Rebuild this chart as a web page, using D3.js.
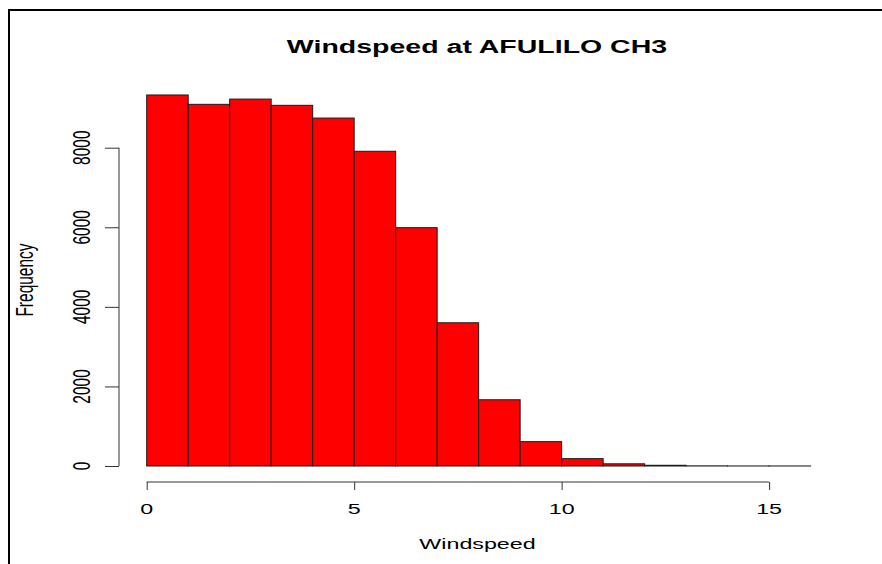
<!DOCTYPE html>
<html>
<head>
<meta charset="utf-8">
<script src="https://cdn.jsdelivr.net/npm/d3@7"></script>
<style>
  html, body { margin: 0; padding: 0; background: #fff; }
  svg { display: block; }
  text { font-family: "Liberation Sans", Arial, sans-serif; fill: #000; }
</style>
</head>
<body>
<svg id="chart" width="882" height="564"></svg>
<script>
// Histogram of wind speed: bins of width 1 from 0 to 16
const binStarts = [0, 1, 2, 3, 4, 5, 6, 7, 8, 9, 10, 11, 12, 13, 14, 15];
const binWidth = 1;
const counts = [9325, 9090, 9222, 9065, 8745, 7910, 5990, 3600, 1665, 612, 185, 55, 18, 3, 1, 1];
const xTicks = [0, 5, 10, 15];
const yTicks = [0, 2000, 4000, 6000, 8000];
const title = "Windspeed at AFULILO CH3";
const xLabel = "Windspeed";
const yLabel = "Frequency";

const svg = d3.select("#chart");
const sx = 1.5; // horizontal stretch of the text glyphs

const x = d3.scaleLinear().domain([0, 16]).range([146.7, 810.6]);
const y = d3.scaleLinear().domain([0, 8000]).range([466, 147.7]);

// outer frame (left and top edges)
svg.append("path")
  .attr("d", "M9,564 V10 H882")
  .attr("fill", "none")
  .attr("stroke", "#000")
  .attr("stroke-width", 2);

// bars
svg.append("g").selectAll("rect")
  .data(binStarts.map((s, i) => ({ s, c: counts[i] })))
  .join("rect")
  .attr("x", d => x(d.s))
  .attr("width", d => x(d.s + binWidth) - x(d.s))
  .attr("y", d => y(d.c))
  .attr("height", d => y(0) - y(d.c))
  .attr("fill", "#ff0000")
  .attr("stroke", "#1a1a1a")
  .attr("stroke-width", 1);

// x axis
const xAxisY = 482;
const gx = svg.append("g").attr("transform", `translate(0,${xAxisY})`)
  .call(d3.axisBottom(x).tickValues(xTicks).tickSizeInner(8).tickSizeOuter(0).tickFormat(""));
gx.select(".domain").attr("d", `M${x(0)},0H${x(15)}`).attr("stroke", "#333");
gx.selectAll(".tick line").attr("stroke", "#333");

svg.append("g").selectAll("text")
  .data(xTicks)
  .join("text")
  .attr("text-anchor", "middle")
  .attr("font-size", 15.5)
  .attr("transform", d => `translate(${x(d)},514) scale(${sx},1)`)
  .text(d => d);

// y axis
const yAxisX = 119;
const gy = svg.append("g").attr("transform", `translate(${yAxisX},0)`)
  .call(d3.axisLeft(y).tickValues(yTicks).tickSizeInner(14).tickSizeOuter(0).tickFormat(""));
gy.select(".domain").attr("d", `M0,${y(0)}V${y(8000)}`).attr("stroke", "#333");
gy.selectAll(".tick line").attr("stroke", "#333");

svg.append("g").selectAll("text")
  .data(yTicks)
  .join("text")
  .attr("text-anchor", "middle")
  .attr("font-size", 15.5)
  .attr("transform", d => `translate(90,${y(d)}) scale(${sx},1) rotate(-90)`)
  .text(d => d);

// titles
svg.append("text")
  .attr("text-anchor", "middle")
  .attr("font-size", 19)
  .attr("font-weight", "bold")
  .attr("transform", `translate(477,53) scale(${sx},1)`)
  .text(title);

svg.append("text")
  .attr("text-anchor", "middle")
  .attr("font-size", 15.5)
  .attr("transform", `translate(477.5,549) scale(${sx},1)`)
  .text(xLabel);

svg.append("text")
  .attr("text-anchor", "middle")
  .attr("font-size", 15.5)
  .attr("transform", `translate(33,280) scale(${sx},1) rotate(-90)`)
  .text(yLabel);
</script>
</body>
</html>
